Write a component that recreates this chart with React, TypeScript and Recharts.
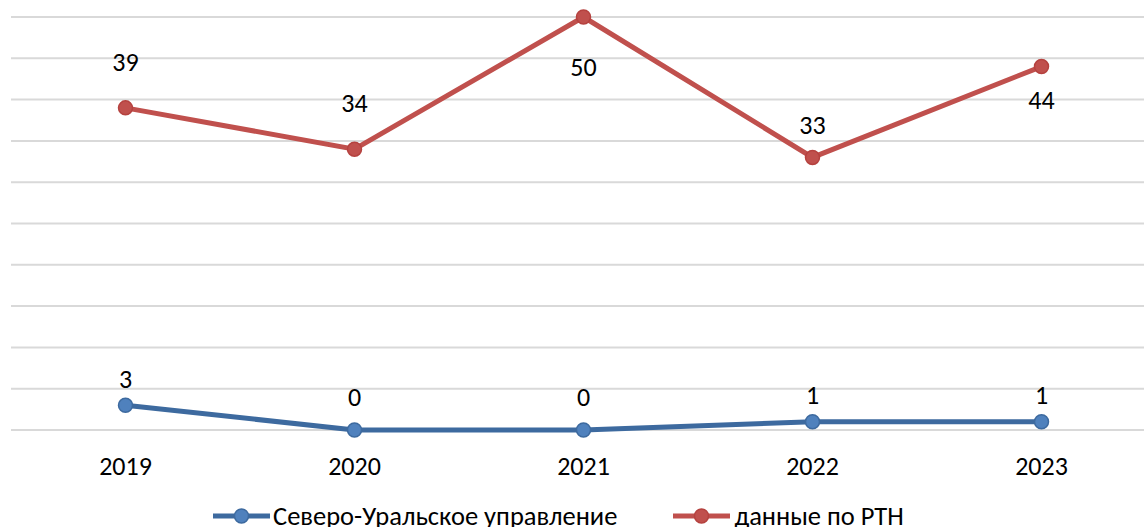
import React from 'react';
import { LineChart, Line, XAxis, YAxis, CartesianGrid, Legend } from 'recharts';

const years = ['2019', '2020', '2021', '2022', '2023'];
const suValues = [3, 0, 0, 1, 1];
const rtnValues = [39, 34, 50, 33, 44];
const yTicks = [0, 5, 10, 15, 20, 25, 30, 35, 40, 45, 50];

const suName = 'Северо-Уральское управление';
const rtnName = 'данные по РТН';

// label offsets from the point (px), tuned by hand like in the original sheet
const suLabelDy = [-26, -33, -33, -27, -27];
const rtnLabelDy = [-46, -46, 50, -32, 33];

const FONT = "Carlito, Calibri, 'Open Sans', sans-serif";
const BLUE_LINE = '#3D6A9F';
const BLUE_DOT = '#4F81BD';
const RED_LINE = '#C0504D';

const chartData = years.map((year, i) => ({
  year,
  su: suValues[i],
  rtn: rtnValues[i],
}));

const makeLabel = (offsets: number[]) => (props: any) => {
  const { x, y, value, index } = props;
  return (
    <text
      x={x}
      y={y + offsets[index]}
      textAnchor="middle"
      dominantBaseline="central"
      fontSize={26}
      fontFamily={FONT}
      fill="#000"
    >
      {value}
    </text>
  );
};

const LegendIcon = ({ line, dot, stroke }: { line: string; dot: string; stroke: string }) => (
  <svg width={57} height={16} style={{ display: 'block' }}>
    <line x1={0} y1={8} x2={57} y2={8} stroke={line} strokeWidth={5} />
    <circle cx={28.5} cy={8} r={7} fill={dot} stroke={stroke} strokeWidth={1.5} />
  </svg>
);

const renderLegend = () => (
  <div
    style={{
      height: 47,
      display: 'flex',
      alignItems: 'center',
      paddingLeft: 202,
      paddingTop: 24,
      boxSizing: 'border-box',
      fontFamily: FONT,
      fontSize: 26.5,
      color: '#000',
      whiteSpace: 'nowrap',
    }}
  >
    <LegendIcon line={BLUE_LINE} dot={BLUE_DOT} stroke={BLUE_LINE} />
    <span style={{ marginLeft: 3 }}>{suName}</span>
    <div style={{ marginLeft: 56 }}>
      <LegendIcon line={RED_LINE} dot={RED_LINE} stroke="#B5423F" />
    </div>
    <span style={{ marginLeft: 4 }}>{rtnName}</span>
  </div>
);

export default function App() {
  return (
    <div
      style={{
        position: 'absolute',
        left: 0,
        top: 0,
        width: 1144,
        height: 527,
        overflow: 'hidden',
        background: '#fff',
      }}
    >
      <LineChart
        width={1156}
        height={527}
        data={chartData}
        margin={{ top: 17, right: 0, left: 11, bottom: 0 }}
      >
        <CartesianGrid vertical={false} stroke="#D9D9D9" strokeWidth={2} />
        <XAxis
          dataKey="year"
          scale="band"
          height={50}
          axisLine={false}
          tickLine={false}
          tickMargin={21}
          tick={{ fontSize: 26, fontFamily: FONT, fill: '#000' }}
        />
        <YAxis hide domain={[0, 50]} ticks={yTicks} interval={0} />
        <Legend verticalAlign="bottom" height={47} content={renderLegend} />
        <Line
          name={suName}
          dataKey="su"
          stroke={BLUE_LINE}
          strokeWidth={5}
          dot={{ r: 7, fill: BLUE_DOT, stroke: BLUE_LINE, strokeWidth: 1.5 }}
          label={makeLabel(suLabelDy)}
          isAnimationActive={false}
        />
        <Line
          name={rtnName}
          dataKey="rtn"
          stroke={RED_LINE}
          strokeWidth={5}
          dot={{ r: 7, fill: RED_LINE, stroke: '#B5423F', strokeWidth: 1.5 }}
          label={makeLabel(rtnLabelDy)}
          isAnimationActive={false}
        />
      </LineChart>
    </div>
  );
}
